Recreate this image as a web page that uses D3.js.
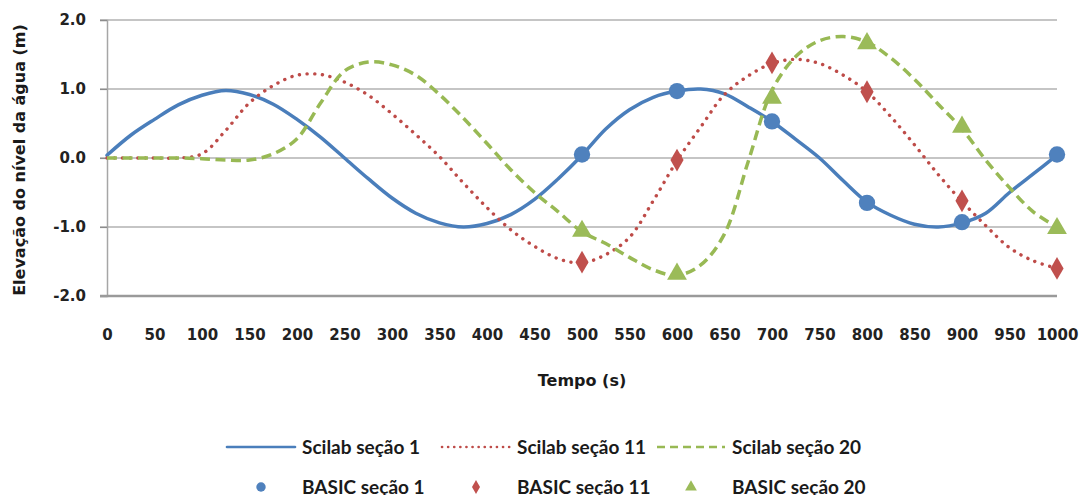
<!DOCTYPE html>
<html>
<head>
<meta charset="utf-8">
<script src="https://cdn.jsdelivr.net/npm/d3@7"></script>
<style>
  body { margin: 0; background: #fff; }
  text { font-family: "DejaVu Sans", sans-serif; font-weight: bold; fill: #1a1a1a; }
  .legend text { font-family: Lato, "Noto Sans", sans-serif; }
</style>
</head>
<body>
<svg id="chart" width="1082" height="495"></svg>
<script>
"use strict";

// tempo (s) das curvas Scilab
var tempoScilab = [0, 25, 50, 75, 100, 125, 150, 175, 200, 225, 250, 275, 300, 325, 350, 375, 400,
  425, 450, 475, 500, 525, 550, 575, 600, 625, 650, 675, 700, 725, 750, 775, 800, 825, 850, 875,
  900, 925, 950, 975, 1000];

var scilab1 = [0.04, 0.33, 0.56, 0.77, 0.91, 0.98, 0.92, 0.78, 0.56, 0.30, 0.00, -0.30, -0.58, -0.80,
  -0.94, -1.00, -0.95, -0.82, -0.60, -0.30, 0.04, 0.42, 0.70, 0.88, 0.97, 1.00, 0.93, 0.74, 0.53,
  0.27, 0.00, -0.33, -0.64, -0.83, -0.96, -1.00, -0.94, -0.80, -0.50, -0.23, 0.04];

var scilab11 = [0.00, 0.00, 0.00, 0.00, 0.06, 0.40, 0.80, 1.05, 1.20, 1.21, 1.10, 0.91, 0.64, 0.34,
  0.02, -0.36, -0.72, -1.04, -1.28, -1.46, -1.52, -1.40, -1.15, -0.62, -0.04, 0.45, 0.92, 1.19,
  1.37, 1.43, 1.37, 1.20, 0.96, 0.60, 0.19, -0.24, -0.63, -0.98, -1.30, -1.49, -1.60];

var scilab20 = [0.00, 0.00, 0.00, 0.00, -0.01, -0.03, -0.03, 0.06, 0.28, 0.80, 1.26, 1.39, 1.35, 1.20,
  0.92, 0.58, 0.21, -0.17, -0.50, -0.78, -1.07, -1.24, -1.44, -1.62, -1.70, -1.55, -1.10, -0.05,
  0.98, 1.47, 1.70, 1.76, 1.68, 1.45, 1.14, 0.78, 0.42, -0.03, -0.43, -0.78, -1.00];

// pontos BASIC
var tempoBasic = [500, 600, 700, 800, 900, 1000];
var basic1 = [0.05, 0.97, 0.53, -0.65, -0.93, 0.05];
var basic11 = [-1.51, -0.03, 1.38, 0.96, -0.62, -1.60];
var basic20 = [-1.06, -1.68, 0.87, 1.66, 0.45, -1.02];

var xTicks = [0, 50, 100, 150, 200, 250, 300, 350, 400, 450, 500, 550, 600, 650, 700, 750, 800,
  850, 900, 950, 1000];
var yTicks = [-2, -1, 0, 1, 2];

var svg = d3.select("#chart");

var x = d3.scaleLinear().domain([0, 1000]).range([107, 1057]);
var y = d3.scaleLinear().domain([-2, 2]).range([296, 20]);

// grade horizontal
svg.append("g").selectAll("line")
  .data(yTicks.filter(function (d) { return d > -2; }))
  .enter().append("line")
  .attr("x1", 100).attr("x2", x(1000))
  .attr("y1", function (d) { return y(d); })
  .attr("y2", function (d) { return y(d); })
  .attr("stroke", "#8c8c8c").attr("stroke-width", 1.2);

// eixo y
var yAxis = svg.append("g")
  .attr("transform", "translate(107,0)")
  .call(d3.axisLeft(y).tickValues(yTicks).tickSize(7).tickPadding(14)
    .tickFormat(function (d) { return d.toFixed(1); }));
yAxis.select(".domain").attr("stroke", "#a6a6a6").attr("stroke-width", 1.5);
yAxis.selectAll(".tick line").attr("stroke", "#8c8c8c").attr("stroke-width", 1.2);
yAxis.selectAll("text").attr("font-size", 15).style("fill", "#222");

// eixo x
var xAxis = svg.append("g")
  .attr("transform", "translate(0,296)")
  .call(d3.axisBottom(x).tickValues(xTicks).tickSize(0).tickPadding(33)
    .tickFormat(function (d) { return d; }));
xAxis.select(".domain").remove();
xAxis.selectAll("text").attr("font-size", 15).style("fill", "#222");
svg.append("line")
  .attr("x1", 100).attr("x2", x(1000)).attr("y1", 296).attr("y2", 296)
  .attr("stroke", "#9a9a9a").attr("stroke-width", 2.5);

// títulos dos eixos
svg.append("text")
  .attr("x", 582).attr("y", 386)
  .attr("text-anchor", "middle").attr("font-size", 16)
  .text("Tempo (s)");
svg.append("text")
  .attr("transform", "translate(25,160) rotate(-90)")
  .attr("text-anchor", "middle").attr("font-size", 16)
  .text("Elevação do nível da água (m)");

var series = [
  { name: "Scilab seção 1", values: scilab1, color: "#4A7EBB", dash: null, cap: "round", width: 3.5 },
  { name: "Scilab seção 11", values: scilab11, color: "#BE4B48", dash: "0.1 7.6", cap: "round", width: 3.4 },
  { name: "Scilab seção 20", values: scilab20, color: "#98B954", dash: "10 5.5", cap: "butt", width: 3.5 }
];
var points = [
  { name: "BASIC seção 1", values: basic1, color: "#4F81BD", shape: d3.symbolCircle, size: 210, legSize: 70 },
  { name: "BASIC seção 11", values: basic11, color: "#C0504D", shape: d3.symbolDiamond, size: 150, legSize: 55 },
  { name: "BASIC seção 20", values: basic20, color: "#9BBB59", shape: d3.symbolTriangle, size: 170, legSize: 60 }
];

var line = d3.line()
  .x(function (d, i) { return x(tempoScilab[i]); })
  .y(function (d) { return y(d); })
  .curve(d3.curveCatmullRom.alpha(0.5));

series.forEach(function (s) {
  svg.append("path")
    .datum(s.values)
    .attr("d", line)
    .attr("fill", "none")
    .attr("stroke", s.color)
    .attr("stroke-width", s.width)
    .attr("stroke-linecap", s.cap)
    .attr("stroke-dasharray", s.dash);
});

points.forEach(function (p) {
  svg.append("g").selectAll("path")
    .data(p.values)
    .enter().append("path")
    .attr("d", d3.symbol().type(p.shape).size(p.size))
    .attr("transform", function (d, i) { return "translate(" + x(tempoBasic[i]) + "," + y(d) + ")"; })
    .attr("fill", p.color);
});

// legenda
var legend = svg.append("g").attr("class", "legend");
var colX = [227, 442, 657];
var sampleW = 68;

series.forEach(function (s, i) {
  var g = legend.append("g").attr("transform", "translate(" + colX[i] + ",447)");
  g.append("line")
    .attr("x1", 0).attr("x2", sampleW).attr("y1", 0).attr("y2", 0)
    .attr("stroke", s.color)
    .attr("stroke-width", 2.6)
    .attr("stroke-linecap", s.cap)
    .attr("stroke-dasharray", s.dash ? (i === 1 ? "0.1 6" : "8 5") : null);
  g.append("text")
    .attr("x", sampleW + 7).attr("y", 0)
    .attr("dy", "0.35em").attr("font-size", 19)
    .text(s.name);
});

points.forEach(function (p, i) {
  var g = legend.append("g").attr("transform", "translate(" + colX[i] + ",487)");
  g.append("path")
    .attr("d", d3.symbol().type(p.shape).size(p.legSize))
    .attr("transform", "translate(" + (sampleW / 2) + ",0)")
    .attr("fill", p.color);
  g.append("text")
    .attr("x", sampleW + 7).attr("y", 0)
    .attr("dy", "0.35em").attr("font-size", 19)
    .text(p.name);
});
</script>
</body>
</html>
